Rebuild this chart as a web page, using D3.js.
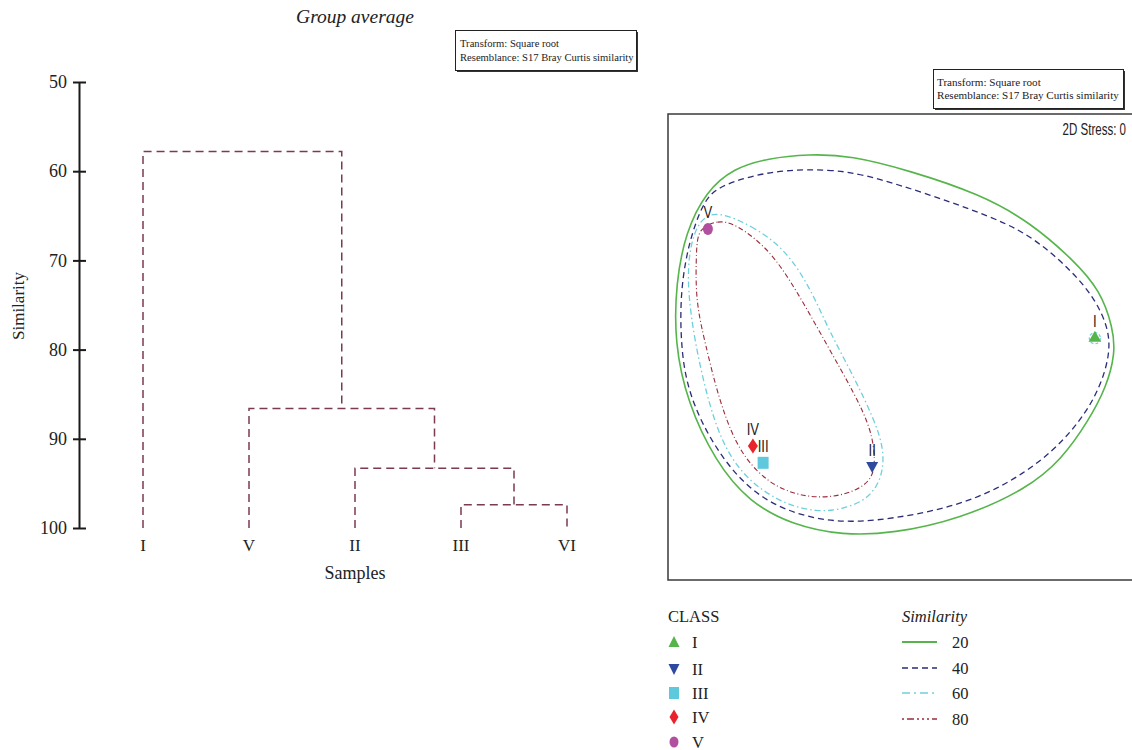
<!DOCTYPE html>
<html><head><meta charset="utf-8">
<script src="https://cdn.jsdelivr.net/npm/d3@7"></script>
<style>
html,body{margin:0;padding:0;background:#fff;overflow:hidden}
svg{display:block}
</style></head>
<body>
<svg id="chart" width="1132" height="750"></svg>
<script>
// ---------- data ----------
const leaves = ["I", "V", "II", "III", "VI"];
const yTicks = [50, 60, 70, 80, 90, 100];
// merges: [childA, childB, similarity, id]
const mergeIds   = ["c1", "c2", "c3", "c4"];
const mergeLeft  = ["III", "II", "V", "I"];
const mergeRight = ["VI", "c1", "c2", "c3"];
const mergeSim   = [97.4, 93.3, 86.6, 57.8];

const classNames = ["I", "II", "III", "IV", "V"];
const mdsX = [92.0, 44.0, 20.5, 18.3, 8.6];
const mdsY = [52.0, 24.3, 25.2, 28.8, 75.5];
const classColors = ["#55b54a", "#2e4a9e", "#5ec8dc", "#e8232b", "#b1509f"];

const simLevels = [20, 40, 60, 80];
const simColors = ["#55b54a", "#2b2d78", "#6fd0dc", "#9a2d3c"];

const contour20 = [[30.2,91.6],[39.4,91.3],[52.2,88.0],[67.2,83.0],[78.0,77.0],[87.5,68.7],[93.2,62.2],[95.9,54.2],[96.4,48.8],[94.5,41.5],[90.6,34.2],[84.9,26.0],[77.4,19.6],[62.9,13.1],[48.5,10.0],[37.7,9.6],[26.9,11.8],[17.4,16.8],[10.2,25.5],[4.2,38.1],[1.4,51.0],[1.7,63.9],[3.8,74.8],[8.2,83.6],[14.2,88.6],[21.6,90.7]];
const contour40 = [[25.2,88.2],[34.5,88.3],[43.5,87.2],[67.2,79.2],[78.0,74.4],[86.8,66.7],[91.9,60.7],[94.9,54.3],[95.3,48.8],[93.2,41.5],[89.0,34.2],[81.0,25.5],[66.6,16.8],[48.5,13.0],[34.3,12.0],[19.6,16.8],[10.2,27.8],[4.2,40.2],[2.7,51.0],[2.7,62.4],[4.5,72.8],[7.6,81.3],[10.6,84.5],[17.9,86.9]];
const contour60 = [[10.8,79.3],[17.9,76.3],[25.2,71.3],[30.8,62.6],[34.5,54.0],[40.0,43.8],[44.5,34.4],[46.6,28.0],[46.2,22.0],[43.2,17.4],[37.7,15.2],[32.1,14.6],[25.4,16.2],[18.0,20.6],[12.3,27.8],[8.7,38.1],[5.8,51.0],[4.2,62.4],[4.5,71.2],[6.8,77.8]];
const contour80 = [[6.5,75.6],[10.8,77.4],[14.6,76.6],[21.8,71.2],[27.6,62.5],[34.5,50.1],[40.2,40.1],[43.9,32.2],[44.7,25.6],[44.0,21.8],[40.9,19.3],[35.6,17.8],[30.0,17.8],[23.9,19.6],[18.9,23.4],[14.5,29.3],[10.8,39.4],[8.0,51.0],[5.9,60.2],[6.1,71.0]];
const contour60I_radius = 1.2; // around sample I

const infoLines = ["Transform: Square root", "Resemblance: S17 Bray Curtis similarity"];

// ---------- setup ----------
const svg = d3.select("#chart");
const serif = "'Liberation Serif', 'Times New Roman', serif";
const narrow = "'Liberation Sans Narrow', 'Liberation Sans', Arial, sans-serif";

// ---------- dendrogram ----------
const y = d3.scaleLinear().domain([50, 100]).range([82, 528]);
const x = d3.scalePoint().domain(leaves).range([143, 567]);

const axisG = svg.append("g").attr("transform", "translate(79,0)")
  .call(d3.axisLeft(y).tickValues(yTicks).tickSizeInner(6).tickSizeOuter(0).tickPadding(6));
axisG.select(".domain").attr("stroke", "#1a1a1a").attr("stroke-width", 2);
axisG.selectAll(".tick line").attr("x1", -6).attr("x2", 7).attr("stroke", "#1a1a1a").attr("stroke-width", 2);
axisG.selectAll(".tick text").attr("font-family", serif).attr("font-size", 18).attr("fill", "#222");

svg.append("text").attr("transform", "translate(24,306) rotate(-90)")
  .attr("text-anchor", "middle").attr("font-family", serif).attr("font-size", 17).attr("fill", "#222")
  .text("Similarity");

const nodePos = {};
leaves.forEach(l => nodePos[l] = {x: x(l), s: 100});
mergeIds.forEach((id, i) => {
  const a = nodePos[mergeLeft[i]], b = nodePos[mergeRight[i]];
  nodePos[id] = {x: (a.x + b.x) / 2, s: mergeSim[i]};
});
const dendroPath = mergeIds.map((id, i) => {
  const a = nodePos[mergeLeft[i]], b = nodePos[mergeRight[i]];
  const ym = y(mergeSim[i]);
  return `M${a.x},${y(a.s)}V${ym}H${b.x}V${y(b.s)}`;
});
svg.append("g").selectAll("path").data(dendroPath).join("path")
  .attr("d", d => d).attr("fill", "none").attr("stroke", "#7b3b4e")
  .attr("stroke-width", 1.5).attr("stroke-dasharray", "8,5");

svg.append("g").selectAll("text").data(leaves).join("text")
  .attr("x", d => x(d)).attr("y", 551).attr("text-anchor", "middle")
  .attr("font-family", serif).attr("font-size", 17).attr("fill", "#222").text(d => d);
svg.append("text").attr("x", 355).attr("y", 579).attr("text-anchor", "middle")
  .attr("font-family", serif).attr("font-size", 18).attr("fill", "#222").text("Samples");

svg.append("text").attr("x", 355).attr("y", 23).attr("text-anchor", "middle")
  .attr("font-family", serif).attr("font-style", "italic").attr("font-size", 19.5).attr("fill", "#222")
  .text("Group average");

function infoBox(x0, y0, w, h, tx, ty, fs) {
  const g = svg.append("g");
  g.append("rect").attr("x", x0 + 1.5).attr("y", y0 + 1.5).attr("width", w).attr("height", h).attr("fill", "#333");
  g.append("rect").attr("x", x0).attr("y", y0).attr("width", w).attr("height", h)
    .attr("fill", "#fff").attr("stroke", "#222").attr("stroke-width", 1);
  g.selectAll("text").data(infoLines).join("text")
    .attr("x", tx).attr("y", (d, i) => ty + i * 13.5)
    .attr("font-family", serif).attr("font-size", fs).attr("fill", "#222").text(d => d);
}
infoBox(455.5, 30.5, 181, 40, 460, 47, 10.6);
infoBox(933.5, 69.5, 190, 39, 937, 85.5, 11.1);

// ---------- MDS panel ----------
const mx = d3.scaleLinear().domain([0, 100]).range([668, 1132]);
const my = d3.scaleLinear().domain([0, 100]).range([580, 115]);

svg.append("rect").attr("x", 668).attr("y", 114).attr("width", 480).attr("height", 466)
  .attr("fill", "#fff").attr("stroke", "#3a3a3a").attr("stroke-width", 1.5);

const line = d3.line().x(d => mx(d[0])).y(d => my(d[1])).curve(d3.curveBasisClosed);
const contours = [
  {pts: contour20, color: simColors[0], dash: null, w: 1.6},
  {pts: contour40, color: simColors[1], dash: "6,4", w: 1.3},
  {pts: contour60, color: simColors[2], dash: "6,3,1.5,3", w: 1.3},
  {pts: contour80, color: simColors[3], dash: "5,2.5,1,2.5", w: 1.1}
];
svg.append("g").selectAll("path").data(contours).join("path")
  .attr("d", d => line(d.pts)).attr("fill", "none")
  .attr("stroke", d => d.color).attr("stroke-width", d => d.w)
  .attr("stroke-dasharray", d => d.dash);
svg.append("circle").attr("cx", mx(mdsX[0])).attr("cy", my(mdsY[0]))
  .attr("r", mx(contour60I_radius) - mx(0)).attr("fill", "none")
  .attr("stroke", simColors[2]).attr("stroke-width", 1.2).attr("stroke-dasharray", "3,2");

const shapes = [
  d3.symbol(d3.symbolTriangle, 70)(),
  "M-6,-5L6,-5L0,6Z",
  "M-5.5,-6L5.5,-6L5.5,6L-5.5,6Z",
  "M0,-7.5L5,0L0,7.5L-5,0Z",
  null
];
classNames.forEach((c, i) => {
  const g = svg.append("g").attr("transform", `translate(${mx(mdsX[i])},${my(mdsY[i])})`);
  if (shapes[i]) g.append("path").attr("d", shapes[i]).attr("fill", classColors[i]);
  else g.append("ellipse").attr("rx", 5).attr("ry", 6).attr("fill", classColors[i]);
  svg.append("text").attr("x", mx(mdsX[i])).attr("y", my(mdsY[i]) - 11)
    .attr("text-anchor", "middle").attr("font-family", narrow).attr("font-size", 16)
    .attr("transform", `translate(${mx(mdsX[i])},0) scale(0.82,1) translate(${-mx(mdsX[i])},0)`)
    .attr("fill", "#222").text(c);
});

svg.append("text").attr("x", 1126).attr("y", 135).attr("text-anchor", "end")
  .attr("font-family", narrow).attr("font-size", 16).attr("fill", "#222")
  .attr("transform", "translate(1126,0) scale(0.72,1) translate(-1126,0)")
  .text("2D Stress: 0");

// ---------- legends ----------
svg.append("text").attr("x", 668).attr("y", 622).attr("font-family", serif).attr("font-size", 16.5)
  .attr("fill", "#222").text("CLASS");
const legY = [642, 669, 693, 717, 742];
const legShapes = [
  "M0,-6L5.5,5L-5.5,5Z",
  "M-5.5,-5L5.5,-5L0,6Z",
  "M-5,-6L5,-6L5,6L-5,6Z",
  "M0,-7.5L4.5,0L0,7.5L-4.5,0Z",
  null
];
classNames.forEach((c, i) => {
  const g = svg.append("g").attr("transform", `translate(674,${legY[i]})`);
  if (legShapes[i]) g.append("path").attr("d", legShapes[i]).attr("fill", classColors[i]);
  else g.append("ellipse").attr("rx", 4.5).attr("ry", 5.5).attr("fill", classColors[i]);
  svg.append("text").attr("x", 692).attr("y", legY[i] + 5.5).attr("font-family", serif)
    .attr("font-size", 16.5).attr("fill", "#222").text(c);
});

svg.append("text").attr("x", 902).attr("y", 622).attr("font-family", serif).attr("font-style", "italic")
  .attr("font-size", 16.5).attr("fill", "#222").text("Similarity");
const simLegY = [642, 668, 693, 719];
const simDash = [null, "6,4", "8,4,2,4", "2,3,7,3,2,3,2,3"];
simLevels.forEach((s, i) => {
  svg.append("line").attr("x1", 902).attr("x2", 937).attr("y1", simLegY[i]).attr("y2", simLegY[i])
    .attr("stroke", simColors[i]).attr("stroke-width", i === 0 ? 2 : 1.6).attr("stroke-dasharray", simDash[i]);
  svg.append("text").attr("x", 952).attr("y", simLegY[i] + 6).attr("font-family", serif)
    .attr("font-size", 16.5).attr("fill", "#222").text(s);
});
</script>
</body></html>
